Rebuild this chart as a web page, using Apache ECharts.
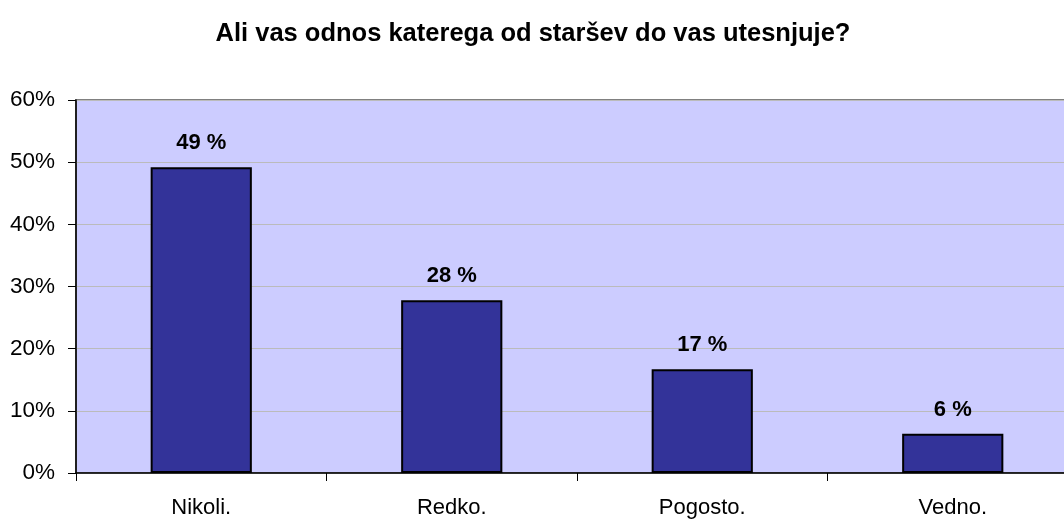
<!DOCTYPE html>
<html><head><meta charset="utf-8">
<script src="https://cdn.jsdelivr.net/npm/echarts@6/dist/echarts.min.js"></script>
<style>html,body{margin:0;padding:0;background:#fff;overflow:hidden}#c{width:1080px;height:520px}</style>
</head><body><div id="c"></div>
<script>
const categories = ['Nikoli.', 'Redko.', 'Pogosto.', 'Vedno.'];
const values = [49.2, 27.8, 16.7, 6.3];
const labels = ['49 %', '28 %', '17 %', '6 %'];
const yTicks = [0, 10, 20, 30, 40, 50, 60];

const FONT = 'Liberation Sans, Arial, sans-serif';
const chart = echarts.init(document.getElementById('c'), null, {renderer: 'canvas'});
chart.setOption({
  animation: false,
  title: {
    text: 'Ali vas odnos katerega od staršev do vas utesnjuje?',
    left: 528, top: 16, textAlign: 'center',
    textStyle: {fontFamily: FONT, fontSize: 25.5, fontWeight: 'bold', color: '#000'}
  },
  grid: {
    left: 76, top: 100, width: 1002, height: 373, containLabel: false, outerBoundsMode: 'none',
    show: true, backgroundColor: '#CCCCFF', borderColor: '#808080', borderWidth: 2
  },
  xAxis: {
    type: 'category', data: categories,
    axisLine: {lineStyle: {color: '#000', width: 1.5}},
    axisTick: {show: true, length: 8, alignWithLabel: false, lineStyle: {color: '#000'}},
    axisLabel: {fontFamily: FONT, fontSize: 22, color: '#000', margin: 24}
  },
  yAxis: {
    type: 'value', min: 0, max: 60, interval: 10,
    axisLine: {show: true, lineStyle: {color: '#000', width: 1.5}},
    axisTick: {show: true, length: 8, lineStyle: {color: '#000'}},
    splitLine: {lineStyle: {color: '#BBBBBB', width: 1}},
    axisLabel: {fontFamily: FONT, fontSize: 22.5, color: '#000', margin: 21,
      formatter: v => v + '%'}
  },
  series: [{
    type: 'bar', data: values, barWidth: '40.4%',
    itemStyle: {color: '#333399', borderColor: '#000', borderWidth: 2},
    label: {show: true, position: 'top', distance: 13,
      formatter: p => labels[p.dataIndex],
      fontFamily: FONT, fontSize: 22, fontWeight: 'bold', color: '#000'}
  }]
});
</script></body></html>
